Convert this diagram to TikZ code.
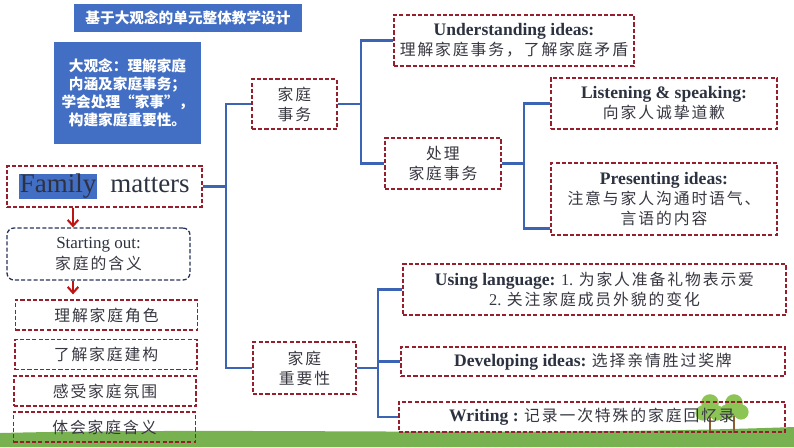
\documentclass[tikz,border=0pt]{standalone}
\usepackage{fontspec}
\setmainfont{Liberation Serif}
\newfontfamily\cjk{Noto Sans CJK SC}
\newfontfamily\cjkk[LetterSpace=12]{Noto Sans CJK SC}
\usepackage{tikz}
\usetikzlibrary{arrows.meta,positioning,calc}
\usepackage{xcolor}
\definecolor{titleblue}{RGB}{66,110,196}
\definecolor{boxred}{RGB}{150,30,45}
\definecolor{boxnavy}{RGB}{40,50,90}
\definecolor{busblue}{RGB}{60,100,180}
\definecolor{arrred}{RGB}{190,20,20}
\definecolor{inkgray}{RGB}{55,55,65}
\definecolor{inkslate}{RGB}{45,50,65}
\definecolor{grass}{RGB}{120,178,80}
\definecolor{leaf}{RGB}{140,196,85}
\definecolor{trunk}{RGB}{140,95,55}
\newcommand{\zh}[1]{{\cjkk\fontsize{13.5}{17}\selectfont #1}}
\newcommand{\en}[1]{{\color{inkslate}\bfseries\fontsize{15}{18}\selectfont #1}}
\tikzset{
    bluebox/.style={rectangle, fill=titleblue, text=white, align=center, inner sep=2pt,
                    font=\cjk\bfseries\fontsize{12.5}{15.5}\selectfont},
    dbox/.style={rectangle, draw=boxred, dash pattern=on 3.5pt off 1.8pt, line width=1.1pt,
                 align=center, text=inkgray, inner sep=2pt, font=\fontsize{14}{17}\selectfont},
    sbox/.style={dbox, draw=boxnavy, rounded corners=6pt},
    bus/.style={draw=busblue, line width=2.3pt},
    downarr/.style={-{Straight Barb[length=5pt,width=9pt]}, line width=1.8pt, draw=arrred},
}
\begin{document}
\begin{tikzpicture}[x=0.03cm, y=-0.03cm,
    leftbox/.style={dbox, minimum width=5.46cm, minimum height=0.9cm},
    leafy/.style={fill=leaf},
]
    \useasboundingbox (0,0) rectangle (794,447);
    \fill[grass] (0,447) -- (0,433) .. controls (250,427) and (520,437) .. (794,427) -- (794,447) -- cycle;

    \fill[trunk] (709,412) rectangle (711,433);
    \fill[trunk] (733,412) rectangle (735,433);
    \fill[leafy] (710,403) circle[radius=7.5pt] (703,413) circle[radius=6.5pt] (717,413) circle[radius=6.5pt];
    \fill[leafy] (734,403) circle[radius=7.5pt] (727,412) circle[radius=6.5pt] (741,412) circle[radius=6.5pt];

    \node[bluebox, minimum width=6.84cm, minimum height=0.84cm] (title) at (188,18) {基于大观念的单元整体教学设计};
    \node[bluebox, minimum width=4.41cm, minimum height=3.06cm] (idea)  at (127.5,93)
        {大观念：理解家庭\\内涵及家庭事务；\\学会处理“家事”，\\构建家庭重要性。};

    \node[dbox, minimum width=5.85cm, minimum height=1.23cm, text=inkslate,
          font=\fontsize{23}{27}\selectfont] (fam) at (104.5,186.5)
        {{\fboxsep=0.5pt\colorbox{titleblue}{Family}}\enspace matters};
    \node[sbox, minimum width=5.49cm, minimum height=1.56cm, font=\fontsize{14.5}{18}\selectfont] (start) at (98.5,254)
        {\textcolor{inkslate}{Starting out:}\\\zh{家庭的含义}};

    \node[leftbox] (role)  at (106.5,315) {\zh{理解家庭角色}};
    \node[leftbox] (build) at (106,354.5) {\zh{了解家庭建构}};
    \node[leftbox] (mood)  at (105,391)   {\zh{感受家庭氛围}};
    \node[leftbox] (sense) at (104.5,427) {\zh{体会家庭含义}};

    \node[dbox, minimum width=2.55cm, minimum height=1.5cm]  (affairs) at (294.5,104) {\zh{家庭}\\\zh{事务}};
    \node[dbox, minimum width=3.09cm, minimum height=1.56cm] (import)  at (304.5,368) {\zh{家庭}\\\zh{重要性}};

    \node[dbox, minimum width=7.2cm, minimum height=1.53cm] (underst) at (514,40.5)
        {\en{Understanding ideas:}\\\zh{理解家庭事务，了解家庭矛盾}};
    \node[dbox, minimum width=3.48cm, minimum height=1.53cm] (handle) at (443,163.5)
        {\zh{处理}\\\zh{家庭事务}};
    \node[dbox, minimum width=6.78cm, minimum height=1.53cm] (listen) at (664,103.5)
        {\en{Listening \& speaking:}\\\zh{向家人诚挚道歉}};
    \node[dbox, minimum width=6.78cm, minimum height=2.16cm] (present) at (664,199)
        {\en{Presenting ideas:}\\\zh{注意与家人沟通时语气、}\\\zh{言语的内容}};

    \node[dbox, minimum width=11.49cm, minimum height=1.53cm] (uselang) at (594.5,289.5)
        {\en{Using language:} 1. \zh{为家人准备礼物表示爱}\\2. \zh{关注家庭成员外貌的变化}};
    \node[dbox, minimum width=11.52cm, minimum height=0.87cm] (develop) at (593,361.5)
        {\en{Developing ideas:} \zh{选择亲情胜过奖牌}};
    \node[dbox, minimum width=11.58cm, minimum height=0.9cm] (writing) at (592,417)
        {\en{Writing :} \zh{记录一次特殊的家庭回忆录}};

    \coordinate (sp1) at (226,0);
    \coordinate (sp2) at (361,0);
    \coordinate (sp3) at (524,0);
    \coordinate (sp4) at (378,0);
    \coordinate (col) at (73,0);
    \coordinate (presin) at ([yshift=6pt]present.south west);

    \draw[bus] (fam.east) -- (fam.east -| sp1);
    \draw[bus] (affairs.west) -- (affairs.west -| sp1) -- (import.west -| sp1) -- (import.west);
    \draw[bus] (affairs.east) -- (affairs.east -| sp2);
    \draw[bus] (underst.west) -- (underst.west -| sp2) -- (handle.west -| sp2) -- (handle.west);
    \draw[bus] (handle.east) -- (handle.east -| sp3);
    \draw[bus] (listen.west) -- (listen.west -| sp3) -- (presin -| sp3) -- (presin);
    \draw[bus] (import.east) -- (import.east -| sp4);
    \draw[bus] (uselang.west) -- (uselang.west -| sp4) -- (writing.west -| sp4) -- (writing.west);
    \draw[bus] (develop.west) -- (develop.west -| sp4);

    \draw[downarr] (fam.south -| col) -- (start.north -| col);
    \draw[downarr] (start.south -| col) -- ($(role.north -| col)+(0,-5)$);
\end{tikzpicture}
\end{document}
